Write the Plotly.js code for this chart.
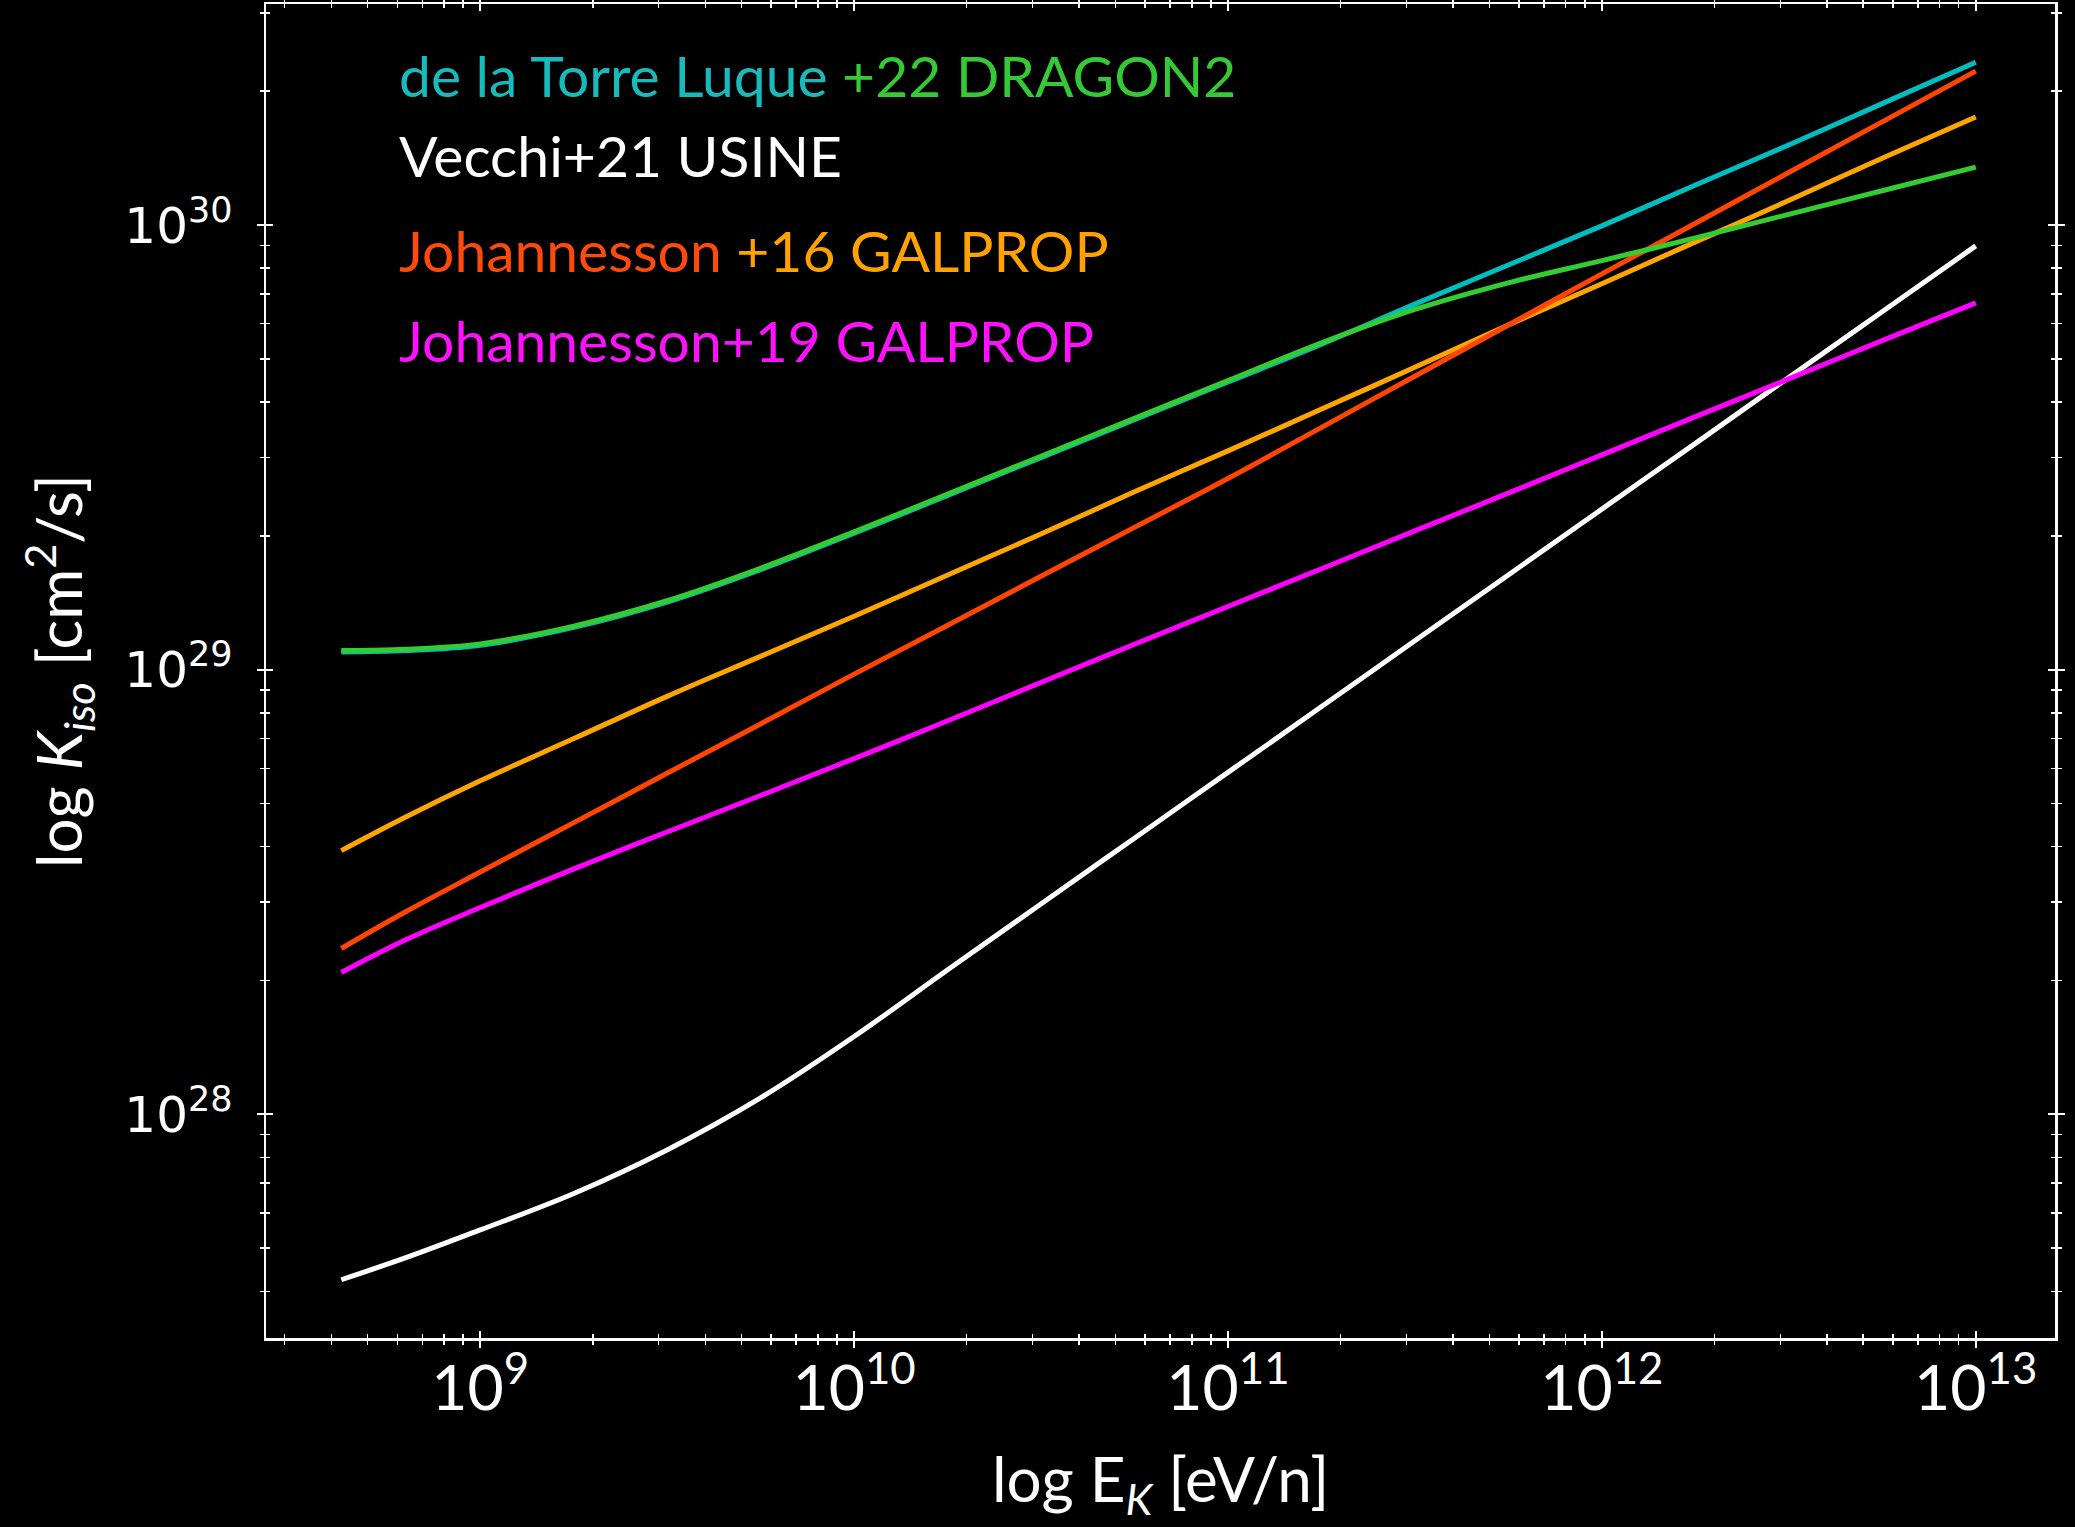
<!DOCTYPE html>
<html>
<head>
<meta charset="utf-8">
<script src="https://cdn.plot.ly/plotly-3.0.1.min.js"></script>
<style>
  html, body { margin: 0; padding: 0; background: #000; }
  #chart { width: 2075px; height: 1527px; }
</style>
</head>
<body>
<div id="chart"></div>
<script>
// Kinetic energy per nucleon [eV/n]
const energy = [4.25e8, 6.3e8, 1e9, 1.78e9, 3.16e9, 5.62e9, 1e10, 1.78e10, 3.16e10, 5.62e10,
                1e11, 1.78e11, 3.16e11, 5.62e11, 1e12, 1.78e12, 3.16e12, 5.62e12, 1e13];

// Diffusion coefficient K_iso [cm^2/s]
const kDragonCyan = [1.0965e29, 1.1040e29, 1.1350e29, 1.2445e29, 1.4191e29, 1.6788e29, 2.0277e29, 2.4660e29, 2.9992e29, 3.6475e29,
                     4.4361e29, 5.3951e29, 6.6374e29, 8.1283e29, 9.9541e29, 1.2303e30, 1.5136e30, 1.8750e30, 2.3227e30];
const kDragonGreen = [1.1041e29, 1.1117e29, 1.1429e29, 1.2531e29, 1.4289e29, 1.6904e29, 2.0417e29, 2.4831e29, 3.0200e29, 3.6728e29,
                      4.4668e29, 5.4325e29, 6.4565e29, 7.4131e29, 8.3176e29, 9.3541e29, 1.0568e30, 1.1940e30, 1.3490e30];
const kUsine = [4.2462e27, 4.7534e27, 5.4954e27, 6.6374e27, 8.3176e27, 1.0889e28, 1.4962e28, 2.1135e28, 2.9717e28, 4.1783e28,
                5.8749e28, 8.2604e28, 1.1614e29, 1.6331e29, 2.2963e29, 3.2285e29, 4.5394e29, 6.3826e29, 8.9743e29];
const kGalprop16Red = [2.3605e28, 2.8510e28, 3.5075e28, 4.5290e28, 5.8479e28, 7.5509e28, 9.7724e28, 1.2589e29, 1.6218e29, 2.0893e29,
                       2.6915e29, 3.5075e29, 4.5709e29, 5.9566e29, 7.7625e29, 1.0093e30, 1.3122e30, 1.7061e30, 2.2182e30];
const kGalprop16Orange = [3.9173e28, 4.6559e28, 5.6234e28, 6.9984e28, 8.7096e28, 1.0715e29, 1.3183e29, 1.6331e29, 2.0184e29, 2.5119e29,
                          3.1046e29, 3.8548e29, 4.7863e29, 5.9566e29, 7.3790e29, 9.1622e29, 1.1350e30, 1.4125e30, 1.7498e30];
const kGalprop19 = [2.0845e28, 2.4660e28, 2.9174e28, 3.5645e28, 4.3152e28, 5.2119e28, 6.3096e28, 7.6736e28, 9.3541e28, 1.1403e29,
                    1.3868e29, 1.6866e29, 2.0512e29, 2.4946e29, 3.0409e29, 3.7068e29, 4.5082e29, 5.4954e29, 6.6834e29];

const legendLines = [
  '<span style="color:#17BBBD">de la Torre Luque</span><span style="color:#35C935"> +22 DRAGON2</span>',
  '<span style="color:#FFFFFF">Vecchi+21 USINE</span>',
  '<span style="color:#FF4A0A">Johannesson</span><span style="color:#FFA200"> +16 GALPROP</span>',
  '<span style="color:#FF10FF">Johannesson+19 GALPROP</span>'
];
const legendY = [0.9468, 0.8868, 0.8156, 0.7481];

const C = {
  cyan: '#00BDBF', green: '#33CC33', white: '#FFFFFF',
  red: '#FF4500', orange: '#FFA500', magenta: '#FF00FF'
};

const LW = 5;
function line(y, color, name) {
  return { x: energy, y: y, type: 'scatter', mode: 'lines', name: name,
           line: { color: color, width: LW, shape: 'spline', smoothing: 1 },
           hoverinfo: 'x+y' };
}

const traces = [
  line(kUsine, C.white, 'Vecchi+21 USINE'),
  line(kGalprop19, C.magenta, 'Johannesson+19 GALPROP'),
  line(kGalprop16Orange, C.orange, 'Johannesson+16 GALPROP (b)'),
  line(kGalprop16Red, C.red, 'Johannesson+16 GALPROP (a)'),
  line(kDragonCyan, C.cyan, 'de la Torre Luque+22 DRAGON2 (a)'),
  line(kDragonGreen, C.green, 'de la Torre Luque+22 DRAGON2 (b)'),
  // invisible trace to activate overlay axes (inner tick marks)
  { x: [1e9], y: [1e29], xaxis: 'x2', yaxis: 'y2', type: 'scatter', mode: 'markers',
    marker: { opacity: 0 }, hoverinfo: 'skip', showlegend: false }
];

const XR = [8.427, 13.212];
const YR = [27.497, 30.497];
const textFamily = 'Lato, Open Sans, sans-serif';
const tickFontX = { family: textFamily, size: 50, color: '#FFFFFF' };
const tickFontY = { family: 'DejaVu Sans, sans-serif', size: 40, color: '#FFFFFF' };
const titleFont = { family: textFamily, size: 62, color: '#FFFFFF' };

const baseAxis = {
  type: 'log', dtick: 1, exponentformat: 'power', showgrid: false, zeroline: false,
  tickcolor: '#FFFFFF', tickwidth: 2, ticklen: 7
};

const layout = {
  width: 2075, height: 1527,
  paper_bgcolor: '#000000', plot_bgcolor: '#000000',
  margin: { l: 266, r: 20, t: 4, b: 189 },
  showlegend: false,
  xaxis: Object.assign({}, baseAxis, {
    range: XR, ticks: 'outside', mirror: 'ticks', showline: true, linecolor: '#FFFFFF', linewidth: 2.5,
    tickfont: tickFontX, ticklabelstandoff: -10,
    minor: { dtick: 'D1', ticks: 'outside', ticklen: 4, tickwidth: 1.5, tickcolor: '#FFFFFF', showgrid: false },
    title: { text: 'log E<sub><i>K</i></sub> [eV/n]', font: titleFont, standoff: 37 }
  }),
  yaxis: Object.assign({}, baseAxis, {
    range: YR, ticks: 'outside', mirror: 'ticks', showline: true, linecolor: '#FFFFFF', linewidth: 2.5,
    tickfont: tickFontY, ticklabelstandoff: 16,
    minor: { dtick: 'D1', ticks: 'outside', ticklen: 4, tickwidth: 1.5, tickcolor: '#FFFFFF', showgrid: false },
    title: { text: 'log <i>K<sub>iso</sub></i> [cm<sup>2</sup>/s]', font: titleFont, standoff: 22 }
  }),
  xaxis2: Object.assign({}, baseAxis, {
    range: XR, overlaying: 'x', anchor: 'y2', ticks: 'inside', mirror: 'ticks', showline: false,
    showticklabels: false,
    minor: { dtick: 'D1', ticks: 'inside', ticklen: 4, tickwidth: 1.5, tickcolor: '#FFFFFF', showgrid: false }
  }),
  yaxis2: Object.assign({}, baseAxis, {
    range: YR, overlaying: 'y', anchor: 'x2', ticks: 'inside', mirror: 'ticks', showline: false,
    showticklabels: false,
    minor: { dtick: 'D1', ticks: 'inside', ticklen: 4, tickwidth: 1.5, tickcolor: '#FFFFFF', showgrid: false }
  }),
  annotations: legendLines.map(function (t, i) {
    return { text: t, xref: 'paper', yref: 'paper', x: 0.0732, y: legendY[i],
             xanchor: 'left', yanchor: 'middle', showarrow: false, align: 'left',
             font: { family: textFamily, size: 57, color: '#FFFFFF' } };
  })
};

Plotly.newPlot('chart', traces, layout, { displayModeBar: false, staticPlot: true });
</script>
</body>
</html>
